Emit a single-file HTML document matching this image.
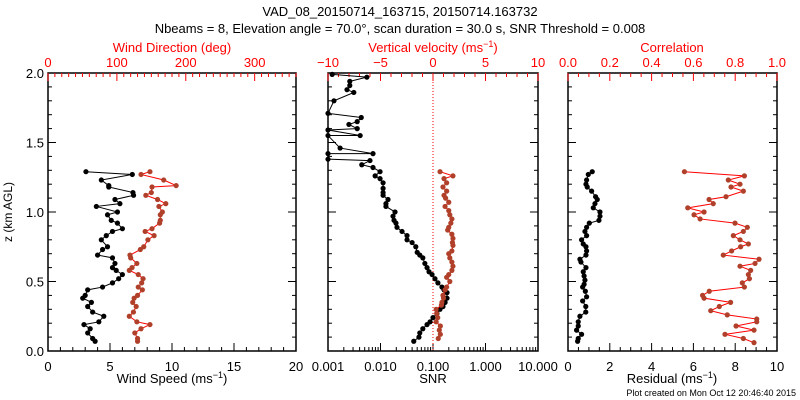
<!DOCTYPE html>
<html><head><meta charset="utf-8"><style>
body{margin:0;background:#fff;width:800px;height:400px;overflow:hidden}
svg{display:block;font-family:"Liberation Sans",sans-serif}
</style></head><body>
<svg id="c" width="800" height="400">
<text x="400" y="16" font-size="13" text-anchor="middle">VAD_08_20150714_163715, 20150714.163732</text>
<text x="400" y="33" font-size="13" text-anchor="middle">Nbeams = 8, Elevation angle = 70.0°, scan duration = 30.0 s, SNR Threshold = 0.008</text>
<text x="12" y="212" font-size="12" text-anchor="middle" transform="rotate(-90 12 212)">z (km AGL)</text>
<text x="172" y="383" font-size="13" text-anchor="middle">Wind Speed (ms<tspan font-size="9" dy="-5">−1</tspan><tspan dy="5">)</tspan></text>
<text x="172" y="52" font-size="13" fill="#f00" text-anchor="middle">Wind Direction (deg)</text>
<text x="433" y="383" font-size="13" text-anchor="middle">SNR</text>
<text x="433" y="52" font-size="13" fill="#f00" text-anchor="middle">Vertical velocity (ms<tspan font-size="9" dy="-5">−1</tspan><tspan dy="5">)</tspan></text>
<text x="672" y="383" font-size="13" text-anchor="middle">Residual (ms<tspan font-size="9" dy="-5">−1</tspan><tspan dy="5">)</tspan></text>
<text x="672" y="52" font-size="13" fill="#f00" text-anchor="middle">Correlation</text>
<text x="796" y="396" font-size="9" text-anchor="end">Plot created on Mon Oct 12 20:46:40 2015</text>
</svg>
<script>
// Panel 1
const wsZ=[1.29,1.27,1.23,1.19,1.18,1.14,1.12,1.09,1.06,1.04,1.0,0.98,0.94,0.92,0.88,0.86,0.83,0.80,0.75,0.73,0.69,0.67,0.63,0.60,0.58,0.55,0.52,0.49,0.46,0.44,0.40,0.38,0.35,0.32,0.28,0.25,0.21,0.19,0.16,0.13,0.09,0.07];
const windSpeed=[3.06,6.8,4.3,4.9,4.9,6.85,6.9,5.4,5.8,3.9,5.6,4.8,5.1,5.6,6.0,5.2,4.7,4.3,4.8,4.4,4.0,5.2,5.4,5.2,5.5,6.0,5.7,5.2,4.4,3.2,3.0,2.8,3.5,3.2,3.6,4.5,4.1,2.9,3.4,3.2,3.6,3.8];
const windDir=[148,135,168,186,151,150,142,159,171,161,166,163,163,162,151,141,154,145,139,134,119,120,129,122,118,131,138,136,131,137,130,125,123,128,124,118,129,148,135,126,130,130];
// Panel 2
const snrZ=[1.99,1.97,1.94,1.91,1.88,1.86,1.80,1.71,1.68,1.65,1.63,1.60,1.59,1.55,1.55,1.46,1.42,1.42,1.38,1.37,1.34,1.32,1.29,1.26,1.24,1.21,1.17,1.14,1.12,1.09,1.06,1.04,1.0,0.97,0.94,0.92,0.89,0.86,0.83,0.80,0.78,0.75,0.71,0.69,0.67,0.63,0.60,0.57,0.55,0.52,0.49,0.46,0.44,0.42,0.38,0.35,0.32,0.30,0.27,0.24,0.21,0.19,0.16,0.13,0.10,0.07];
const snrVal=[0.0012,0.0055,0.0026,0.0026,0.0023,0.0031,0.0013,0.001,0.0043,0.0036,0.0025,0.0036,0.001,0.0041,0.001,0.0017,0.0072,0.001,0.001,0.0063,0.0044,0.0072,0.0098,0.0079,0.0098,0.0112,0.0112,0.0112,0.0112,0.0139,0.0127,0.0127,0.0189,0.0173,0.0181,0.0197,0.0206,0.0257,0.032,0.032,0.040,0.047,0.050,0.056,0.064,0.070,0.077,0.084,0.096,0.109,0.124,0.148,0.162,0.185,0.185,0.170,0.155,0.136,0.119,0.100,0.088,0.077,0.064,0.056,0.054,0.043];
const wZ=[1.29,1.26,1.24,1.21,1.18,1.15,1.12,1.10,1.07,1.04,1.01,0.98,0.95,0.92,0.89,0.87,0.84,0.81,0.78,0.76,0.72,0.70,0.67,0.64,0.61,0.58,0.55,0.53,0.50,0.46,0.44,0.40,0.38,0.35,0.33,0.30,0.27,0.24,0.21,0.18,0.15,0.12,0.09];
const wVal=[0.67,1.9,1.05,1.3,0.95,1.3,1.05,1.2,1.5,1.15,1.5,1.6,1.8,1.7,1.5,1.4,1.8,1.9,1.85,1.9,1.8,1.5,1.6,1.8,1.9,1.8,1.5,1.3,1.6,1.3,1.15,0.95,1.0,0.85,0.8,0.3,0.35,0.45,0.3,0.7,0.6,0.7,0.5];
// Panel 3
const resZ=[1.29,1.27,1.23,1.20,1.18,1.15,1.11,1.09,1.06,1.03,1.00,0.97,0.94,0.92,0.89,0.86,0.83,0.80,0.77,0.75,0.72,0.69,0.66,0.64,0.60,0.57,0.54,0.51,0.48,0.46,0.43,0.39,0.36,0.32,0.28,0.25,0.21,0.18,0.15,0.12,0.09,0.07];
const residual=[1.16,0.97,0.89,0.86,0.92,1.13,1.32,1.40,1.29,1.21,1.53,1.53,1.48,1.02,0.89,0.81,0.89,0.65,0.73,0.86,0.89,0.86,0.57,0.62,0.86,0.73,0.77,0.81,0.77,0.70,0.83,0.89,0.70,0.85,0.85,0.57,0.49,0.49,0.41,0.65,0.49,0.46];
const corZ=[1.29,1.26,1.23,1.20,1.18,1.15,1.11,1.09,1.06,1.03,1.00,0.98,0.95,0.92,0.89,0.86,0.83,0.80,0.77,0.75,0.72,0.69,0.66,0.63,0.61,0.58,0.55,0.52,0.49,0.46,0.43,0.40,0.38,0.35,0.32,0.29,0.26,0.23,0.21,0.18,0.15,0.12,0.09,0.06];
const corr=[0.557,0.844,0.767,0.823,0.780,0.839,0.756,0.675,0.695,0.573,0.651,0.603,0.632,0.799,0.858,0.839,0.791,0.823,0.863,0.826,0.783,0.743,0.914,0.895,0.823,0.874,0.863,0.868,0.834,0.844,0.676,0.644,0.651,0.778,0.724,0.683,0.762,0.903,0.903,0.804,0.890,0.751,0.839,0.890];
const yTicks=["0.0","0.5","1.0","1.5","2.0"];

const S=document.getElementById('c'),NS='http://www.w3.org/2000/svg';
const T=73,B=351;
const yS=z=>B-(z/2)*(B-T);
function el(tag,at){const e=document.createElementNS(NS,tag);for(const k in at)e.setAttribute(k,at[k]);S.appendChild(e);return e;}
const P=[{l:48,r:296,n:'wind'},{l:328,r:538,n:'snr'},{l:568,r:777,n:'residual'}];
P.forEach(p=>{
  const f=el('rect',{x:p.l,y:T,width:p.r-p.l,height:B-T,fill:'none',stroke:'#000','stroke-width':1.5});
  
  
  for(let i=0;i<=20;i++){const y=yS(i*0.1),L=i%5==0?8:4;
    el('line',{x1:p.l,x2:p.l+L,y1:y,y2:y,stroke:'#000'});
    el('line',{x1:p.r,x2:p.r-L,y1:y,y2:y,stroke:'#000'});}
});
yTicks.forEach((t,i)=>{const tx=el('text',{x:44,y:yS(i*0.5)+5,'font-size':13,'text-anchor':'end'});tx.textContent=t;
  
  });
function ticksB(l,r,min,max,maj,mn,lab,fmt,col,top){
  const sx=v=>l+(v-min)/(max-min)*(r-l);
  for(let v=min;v<=max+1e-9;v+=mn){const x=sx(v);const isM=Math.abs(v/maj-Math.round(v/maj))<1e-6;const L=isM?8:4;
    if(top)el('line',{x1:x,x2:x,y1:T,y2:T+L,stroke:col});else el('line',{x1:x,x2:x,y1:B,y2:B-L,stroke:col});}
  lab.forEach(v=>{const t=el('text',{x:sx(v),y:top?67:371,'font-size':13,'text-anchor':'middle',fill:col});t.textContent=fmt(v);
    
    });
  return sx;}
const xWS=ticksB(48,296,0,20,5,1,[0,5,10,15,20],v=>v,'#000',false);
const xWD=ticksB(48,296,0,360,100,10,[0,100,200,300],v=>v,'#f00',true);
const xW=ticksB(328,538,-10,10,5,1,[-10,-5,0,5,10],v=>v<0?'−'+(-v):v,'#f00',true);
const xRes=ticksB(568,777,0,10,2,0.5,[0,2,4,6,8,10],v=>v,'#000',false);
const xCor=ticksB(568,777,0,1,0.2,0.05,[0,0.2,0.4,0.6,0.8,1.0],v=>v.toFixed(1),'#f00',true);
// log axis
const xSNR=v=>328+(Math.log10(v)+3)*52.5;
for(let d=-3;d<=1;d++){for(let m=1;m<10;m++){if(d==1&&m>1)break;const x=xSNR(m*Math.pow(10,d));el('line',{x1:x,x2:x,y1:B,y2:B-(m==1?8:4),stroke:'#000'});}}
["0.001","0.010","0.100","1.000","10.000"].forEach((t,i)=>{const tx=el('text',{x:328+i*52.5,y:371,'font-size':13,'text-anchor':'middle'});tx.textContent=t;
  
  });
const zl=el('line',{x1:xW(0),x2:xW(0),y1:T,y2:B,stroke:'#f00','stroke-dasharray':'1,2'});


function series(zs,vs,sx,lc,mc,name,lo,hi){
  const px=vs.map(v=>Math.max(lo,Math.min(hi,sx(v))));
  const pts=zs.map((z,i)=>px[i]+','+yS(z)).join(' ');
  const pl=el('polyline',{points:pts,fill:'none',stroke:lc,'stroke-width':1});
  
  
  zs.forEach((z,i)=>{const c=el('circle',{cx:px[i],cy:yS(z),r:2.6,fill:mc});
    
    });
}
series(wsZ,windSpeed,xWS,'#000','#000','wind-speed',48,296);
series(wsZ,windDir,xWD,'#f00','#b0402a','wind-direction',48,296);
series(snrZ,snrVal,xSNR,'#000','#000','snr',328,538);
series(wZ,wVal,xW,'#f00','#b0402a','vertical-velocity',328,538);
series(resZ,residual,xRes,'#000','#000','residual',568,777);
series(corZ,corr,xCor,'#f00','#b0402a','correlation',568,777);
</script>
</body></html>
